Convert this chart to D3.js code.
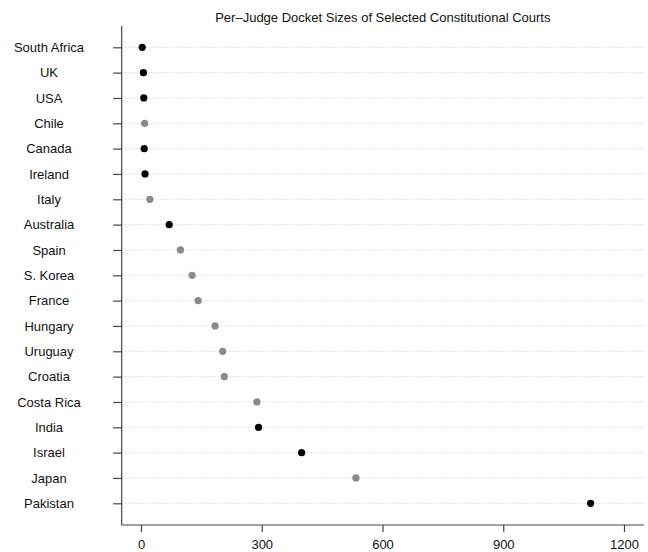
<!DOCTYPE html>
<html><head><meta charset="utf-8">
<script src="https://cdn.jsdelivr.net/npm/d3@7"></script>
<style>body{margin:0;background:#fff}svg{display:block}text{font-family:"Liberation Sans",Arial,Helvetica,sans-serif}</style>
</head><body>
<script>
const countries = ["South Africa","UK","USA","Chile","Canada","Ireland","Italy","Australia","Spain","S. Korea","France","Hungary","Uruguay","Croatia","Costa Rica","India","Israel","Japan","Pakistan"];
const dockets = [3,6,7,9,8,10,22,70,98,127,142,184,203,207,288,292,399,534,1117];
const groups = ["b","b","b","g","b","b","g","b","g","g","g","g","g","g","g","b","b","g","b"];
const xTicks = [0,300,600,900,1200];
const title = "Per\u2013Judge Docket Sizes of Selected Constitutional Courts";

const W = 648, H = 552;
const svg = d3.select("body").append("svg").attr("width", W).attr("height", H);
const axisX = 121.7, axisY = 525, right = 644;
const x = d3.scaleLinear().domain([0,1200]).range([141,624]);
const y = d3.scalePoint().domain(countries).range([47.3,503.3]);
const color = d3.scaleOrdinal().domain(["b","g"]).range(["#000000","#8a8a8a"]);

// gridlines
svg.append("g").selectAll("line").data(countries).join("line")
  .attr("x1", axisX).attr("x2", right + 2)
  .attr("y1", d => y(d)).attr("y2", d => y(d))
  .attr("stroke", "#c8c8c8").attr("stroke-width", 1).attr("stroke-dasharray", "1,2");

// axis lines
svg.append("line").attr("x1", axisX).attr("x2", axisX).attr("y1", 26).attr("y2", axisY)
  .attr("stroke", "#444").attr("stroke-width", 1.2);
svg.append("line").attr("x1", axisX).attr("x2", right).attr("y1", axisY).attr("y2", axisY)
  .attr("stroke", "#444").attr("stroke-width", 1.2);

// y axis ticks + labels
const ya = svg.append("g").attr("transform", `translate(${axisX},0)`)
  .call(d3.axisLeft(y).tickSize(8.5).tickPadding(0));
ya.select(".domain").remove();
ya.selectAll(".tick line").attr("stroke", "#444").attr("stroke-width", 1.2);
ya.selectAll(".tick text").attr("x", 49 - axisX).attr("text-anchor", "middle")
  .attr("font-size", 13).attr("fill", "#111").attr("font-family", '"Liberation Sans",Arial,sans-serif');

// x axis ticks + labels
const xa = svg.append("g").attr("transform", `translate(0,${axisY})`)
  .call(d3.axisBottom(x).tickValues(xTicks).tickFormat(d3.format("d")).tickSize(7).tickPadding(8));
xa.select(".domain").remove();
xa.selectAll(".tick line").attr("stroke", "#444").attr("stroke-width", 1.2);
xa.selectAll(".tick text").attr("font-size", 13).attr("fill", "#111").attr("font-family", '"Liberation Sans",Arial,sans-serif');

// points
svg.append("g").selectAll("circle").data(countries).join("circle")
  .attr("cx", (d,i) => x(dockets[i])).attr("cy", d => y(d)).attr("r", 3.6)
  .attr("fill", (d,i) => color(groups[i]));

// title
svg.append("text").attr("x", (axisX + right) / 2).attr("y", 22)
  .attr("text-anchor", "middle").attr("font-size", 13).attr("fill", "#111").text(title);
</script>
</body></html>
